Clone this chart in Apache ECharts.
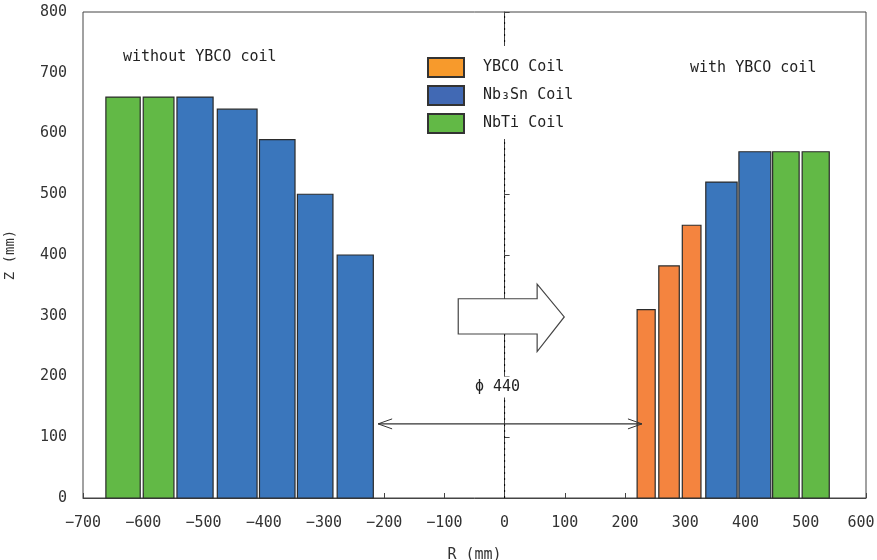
<!DOCTYPE html>
<html>
<head>
<meta charset="utf-8">
<script src="https://cdn.jsdelivr.net/npm/echarts@6/dist/echarts.min.js"></script>
<style>
  html, body { margin: 0; padding: 0; background: #fff; }
  #main { width: 877px; height: 560px; }
</style>
</head>
<body>
<div id="main"></div>
<script>
// coil blocks: [r inner, r outer, height]
var nbtiCoils = [[-662, -605, 660], [-600, -549, 660], [445, 489, 570], [494, 539, 570]];
var nb3snCoils = [[-544, -484, 660], [-477, -411, 640], [-407, -348, 590], [-344, -285, 500], [-278, -218, 400], [334, 386, 520], [389, 442, 570]];
var ybcoCoils = [[220, 250, 310], [256, 290, 382], [295, 326, 449]];
var xTicks = [-700, 600, 100];
var yTicks = [0, 800, 100];

// annotation shapes in data units
var centerLine = [[0, 0], [0, 800]];
var bigArrow = [[-77, 328], [54, 328], [54, 352], [99, 298], [54, 241], [54, 270], [-77, 270]];
var spanArrow = [[-210, 122], [228, 122]];

var fontName = 'DejaVu Sans Mono';

var myChart = echarts.init(document.getElementById('main'));

function coilRender(fill) {
  return function (params, api) {
    var p0 = api.coord([api.value(0), api.value(2)]);
    var p1 = api.coord([api.value(1), 0]);
    return {
      type: 'rect',
      shape: { x: p0[0], y: p0[1], width: p1[0] - p0[0], height: p1[1] - p0[1] },
      style: { fill: fill, stroke: '#2b2b2b', lineWidth: 1.2 }
    };
  };
}

function coilSeries(name, data, legendColor, fill) {
  return {
    name: name,
    type: 'custom',
    renderItem: coilRender(fill),
    itemStyle: { color: legendColor, borderColor: '#333', borderWidth: 1 },
    encode: { x: [0, 1], y: 2 },
    data: data,
    z: 3
  };
}

option = {
  animation: false,
  textStyle: { fontFamily: fontName },
  grid: {
    left: 83, right: 11, top: 12, bottom: 62,
    outerBoundsMode: 'none',
    show: true, borderColor: '#444', borderWidth: 1
  },
  legend: {
    orient: 'vertical',
    left: 422, top: 46,
    padding: [11, 8, 5, 5],
    backgroundColor: '#fff',
    z: 6,
    itemWidth: 36, itemHeight: 19, itemGap: 7,
    icon: 'rect',
    textStyle: {
      fontSize: 15, color: '#222', fontFamily: fontName,
      lineHeight: 19,
      padding: [0, 0, 0, 14]
    },
    data: ['YBCO Coil', 'Nb\u2083Sn Coil', 'NbTi Coil']
  },
  xAxis: {
    type: 'value',
    min: xTicks[0], max: xTicks[1], interval: xTicks[2],
    name: 'R (mm)', nameLocation: 'middle', nameGap: 50,
    nameTextStyle: { fontSize: 15, color: '#333' },
    axisLine: { lineStyle: { color: '#444' } },
    axisTick: { inside: true, length: 5, lineStyle: { color: '#444' } },
    axisLabel: {
      fontSize: 15, color: '#333', margin: 18,
      formatter: function (v) {
        if (v === xTicks[1]) return '{m|' + v + '}';
        return String(v).replace('-', '\u2212');
      },
      rich: { m: { fontSize: 15, color: '#333', fontFamily: fontName, padding: [0, 10, 0, 0] } }
    },
    splitLine: { show: false }
  },
  yAxis: {
    type: 'value',
    min: yTicks[0], max: yTicks[1], interval: yTicks[2],
    name: 'Z (mm)', nameLocation: 'middle', nameGap: 66,
    nameTextStyle: { fontSize: 14, color: '#333' },
    axisLine: { show: true, lineStyle: { color: '#444' } },
    axisTick: { show: true, inside: true, length: 5, lineStyle: { color: '#444' } },
    axisLabel: { fontSize: 15, color: '#333', margin: 16 },
    splitLine: { show: false }
  },
  series: [
    {
      // dotted centre line, behind everything
      type: 'custom',
      silent: true,
      data: [0],
      z: 1,
      renderItem: function (params, api) {
        var a = api.coord(centerLine[0]);
        var b = api.coord(centerLine[1]);
        return {
          type: 'line',
          shape: { x1: a[0], y1: a[1], x2: b[0], y2: b[1] },
          style: { stroke: '#000', lineWidth: 1, lineDash: [2, 4] }
        };
      }
    },
    coilSeries('YBCO Coil', ybcoCoils, '#f79a2c', '#f4843f'),
    coilSeries('Nb\u2083Sn Coil', nb3snCoils, '#4169b4', '#3a76bc'),
    coilSeries('NbTi Coil', nbtiCoils, '#62b946', '#62b946'),
    {
      type: 'custom',
      silent: true,
      data: [0],
      z: 4,
      renderItem: function (params, api) {
        var pts = bigArrow.map(function (p) { return api.coord(p); });
        var a = api.coord(spanArrow[0]);
        var b = api.coord(spanArrow[1]);
        var h = 14, w = 5;
        return {
          type: 'group',
          children: [
            { type: 'polygon', shape: { points: pts }, style: { fill: '#fff', stroke: '#444', lineWidth: 1.2 } },
            { type: 'line', shape: { x1: a[0], y1: a[1], x2: b[0], y2: b[1] }, style: { stroke: '#333', lineWidth: 1.2 } },
            { type: 'polyline', shape: { points: [[a[0] + h, a[1] - w], [a[0], a[1]], [a[0] + h, a[1] + w]] }, style: { stroke: '#333', fill: null, lineWidth: 1 } },
            { type: 'polyline', shape: { points: [[b[0] - h, b[1] - w], [b[0], b[1]], [b[0] - h, b[1] + w]] }, style: { stroke: '#333', fill: null, lineWidth: 1 } }
          ]
        };
      }
    }
  ],
  graphic: [
    { type: 'text', x: 123, y: 57, style: { text: 'without YBCO coil', fontSize: 15, fill: '#222', fontFamily: fontName, verticalAlign: 'middle' } },
    { type: 'text', x: 690, y: 68, style: { text: 'with YBCO coil', fontSize: 15, fill: '#222', fontFamily: fontName, verticalAlign: 'middle' } },
    { type: 'text', x: 473, y: 387, z: 5, style: { text: 'ϕ 440', fontSize: 15, fill: '#222', fontFamily: fontName, verticalAlign: 'middle', backgroundColor: '#fff', padding: [3, 2, 3, 2] } }
  ]
};

myChart.setOption(option);
</script>
</body>
</html>
